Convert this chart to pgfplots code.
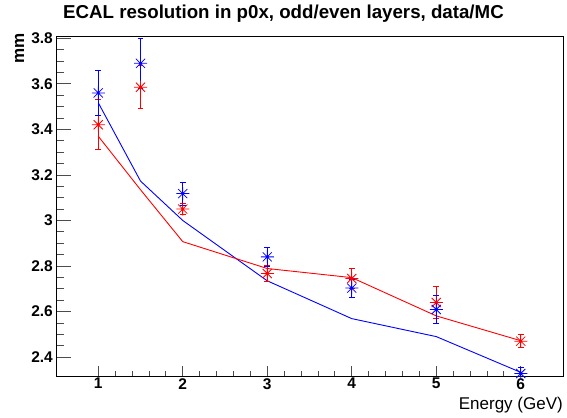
\documentclass[border=0pt]{standalone}
\usepackage{pgfplots}
\pgfplotsset{compat=1.18}
\usepackage{fontspec}
\setmainfont{Liberation Sans}

\pgfdeclareplotmark{rootstar}{%
  \pgfpathmoveto{\pgfqpoint{-\pgfplotmarksize}{0pt}}%
  \pgfpathlineto{\pgfqpoint{\pgfplotmarksize}{0pt}}%
  \pgfpathmoveto{\pgfqpoint{0pt}{-\pgfplotmarksize}}%
  \pgfpathlineto{\pgfqpoint{0pt}{\pgfplotmarksize}}%
  \pgfpathmoveto{\pgfqpoint{-0.7\pgfplotmarksize}{-0.7\pgfplotmarksize}}%
  \pgfpathlineto{\pgfqpoint{0.7\pgfplotmarksize}{0.7\pgfplotmarksize}}%
  \pgfpathmoveto{\pgfqpoint{-0.7\pgfplotmarksize}{0.7\pgfplotmarksize}}%
  \pgfpathlineto{\pgfqpoint{0.7\pgfplotmarksize}{-0.7\pgfplotmarksize}}%
  \pgfusepathqstroke
  \pgfpathcircle{\pgfpointorigin}{0.22\pgfplotmarksize}%
  \pgfusepathqfill
}

\pgfplotstableread{
x    y     e
1    3.56  0.097
1.5  3.69  0.11
2    3.118 0.05
3    2.84  0.04
4    2.703 0.04
5    2.609 0.06
6    2.328 0.026
}\bluedata
\pgfplotstableread{
x    y     e
1    3.42  0.11
1.5  3.585 0.095
2    3.05  0.025
3    2.767 0.035
4    2.745 0.045
5    2.64  0.07
6    2.47  0.028
}\reddata
\pgfplotstableread{
x    y
1    3.517
1.5  3.173
2    3.0
3    2.735
4    2.569
5    2.49
6    2.333
}\blueline
\pgfplotstableread{
x    y
1    3.37
1.5  3.135
2    2.907
3    2.789
4    2.749
5    2.581
6    2.472
}\redline

\begin{document}
\begin{tikzpicture}
\useasboundingbox (-56bp,-42bp) rectangle (511bp,376bp);
\begin{axis}[
  scale only axis,
  width=507bp, height=340bp,
  xmin=0.5, xmax=6.5,
  ymin=2.317, ymax=3.81,
  xtick={1,2,3,4,5,6},
  ytick={2.4,2.6,2.8,3.0,3.2,3.4,3.6,3.8},
  minor x tick num=4,
  minor y tick num=3,
  tick align=inside,
  xtick pos=bottom, ytick pos=left,
  xtick style={/pgfplots/major tick length=10bp, /pgfplots/minor tick length=5bp, black!70, line width=0.8bp},
  ytick style={/pgfplots/major tick length=15bp, /pgfplots/minor tick length=7.5bp, black!70, line width=0.8bp},
  axis line style={line width=0.8bp},
  /pgf/number format/assume math mode=true,
  tick label style={font=\fontsize{15.5bp}{18bp}\selectfont\bfseries, inner sep=0pt},
  yticklabel style={xshift=-3bp},
  xticklabel style={yshift=-2bp},
  title={ECAL resolution in p0x, odd/even layers, data/MC},
  title style={font=\fontsize{18.7bp}{22bp}\selectfont\bfseries, at={(axis description cs:0.4487,1.035)}, anchor=base, inner sep=0pt},
  xlabel={Energy (GeV)},
  xlabel style={font=\fontsize{17bp}{20bp}\selectfont, at={(axis description cs:1,-0.062)}, anchor=north east, inner sep=0pt},
  ylabel={mm},
  ylabel style={font=\fontsize{17bp}{20bp}\selectfont\bfseries, at={(axis description cs:-0.072,1.009)}, anchor=east, inner sep=0pt},
]
\addplot[blue, line width=0.9bp, no marks] table[x=x,y=y]{\blueline};
\addplot[red, line width=0.9bp, no marks] table[x=x,y=y]{\redline};
\addplot[color=red, only marks, mark=rootstar, mark size=6.5bp, line width=0.8bp,
  error bars/y dir=both, error bars/y explicit,
  error bars/error bar style={line width=0.9bp, color=red},
  error bars/error mark=-,
  error bars/error mark options={mark size=2.8bp, line width=0.9bp, color=red, rotate=90}]
  table[x=x,y=y,y error=e]{\reddata};
\addplot[color=blue, only marks, mark=rootstar, mark size=6.5bp, line width=0.8bp,
  error bars/y dir=both, error bars/y explicit,
  error bars/error bar style={line width=0.9bp, color=blue},
  error bars/error mark=-,
  error bars/error mark options={mark size=2.8bp, line width=0.9bp, color=blue, rotate=90}]
  table[x=x,y=y,y error=e]{\bluedata};
\end{axis}
\end{tikzpicture}
\end{document}
